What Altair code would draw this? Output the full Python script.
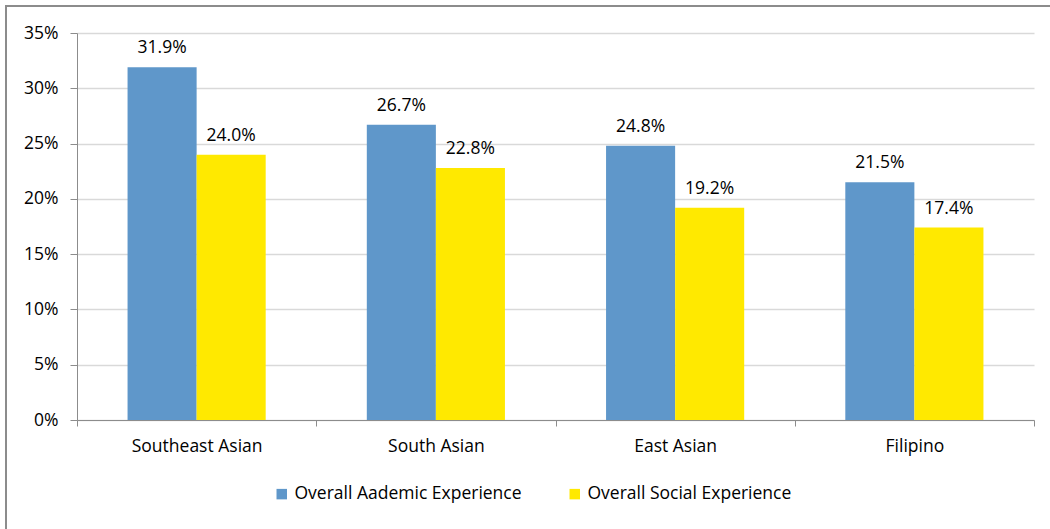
import altair as alt
import pandas as pd

categories = ["Southeast Asian", "South Asian", "East Asian", "Filipino"]
series = ["Overall Aademic Experience", "Overall Social Experience"]
academic = [31.9, 26.7, 24.8, 21.5]
social = [24.0, 22.8, 19.2, 17.4]
colors = ["#5F97CA", "#FFE900"]

rows = []
for c, a, s in zip(categories, academic, social):
    rows.append({"cat": c, "series": series[0], "val": a})
    rows.append({"cat": c, "series": series[1], "val": s})
df = pd.DataFrame(rows)
df["label"] = df["val"].map(lambda v: f"{v:.1f}%")

FONT = "Open Sans"
FS = 17.5

x = alt.X("cat:N", sort=categories, title=None,
          scale=alt.Scale(paddingInner=0, paddingOuter=0),
          axis=alt.Axis(labelAngle=0, tickBand="extent", labelFontSize=FS, labelFont=FONT,
                        labelColor="#000", domainColor="#8c8c8c", tickColor="#8c8c8c",
                        tickSize=6, labelPadding=11, grid=False))
xo = alt.XOffset("series:N", sort=series, scale=alt.Scale(paddingInner=0, paddingOuter=0.732))

bars = alt.Chart(df).mark_bar().encode(
    x=x, xOffset=xo,
    y=alt.Y("val:Q", title=None,
            scale=alt.Scale(domain=[0, 35]),
            axis=alt.Axis(values=[0, 5, 10, 15, 20, 25, 30, 35], labelExpr="datum.value + '%'",
                          labelFontSize=FS, labelFont=FONT, labelColor="#000",
                          domainColor="#8c8c8c", tickColor="#8c8c8c", tickSize=7,
                          gridColor="#d9d9d9", gridWidth=1.5, labelPadding=12)),
    color=alt.Color("series:N", sort=series, scale=alt.Scale(domain=series, range=colors),
                    legend=alt.Legend(title=None, orient="none", direction="horizontal",
                                      legendX=196, legendY=452, symbolType="square",
                                      symbolSize=110, symbolStrokeWidth=0, labelFontSize=FS, labelFont=FONT,
                                      labelColor="#000", columnPadding=44, labelOffset=4, labelLimit=0)),
)

text = alt.Chart(df).mark_text(baseline="bottom", dy=-10, fontSize=FS, font=FONT, color="#000").encode(
    x=x, xOffset=xo, y="val:Q", text="label:N")

frame = alt.Chart(pd.DataFrame({"a": [0]})).mark_rect(fill=None, stroke="#8c8c8c", strokeWidth=2).encode(
    x=alt.value(-71), x2=alt.value(1100), y=alt.value(-27), y2=alt.value(700))

chart = alt.layer(bars, text, frame).properties(
    width=957, height=387,
    autosize=alt.AutoSizeParams(type="none"),
    padding={"left": 77, "top": 33, "right": 16, "bottom": 109},
    background="white",
).configure_view(stroke=None)

chart.save("out.html", embed_options={"renderer": "svg", "actions": False})
